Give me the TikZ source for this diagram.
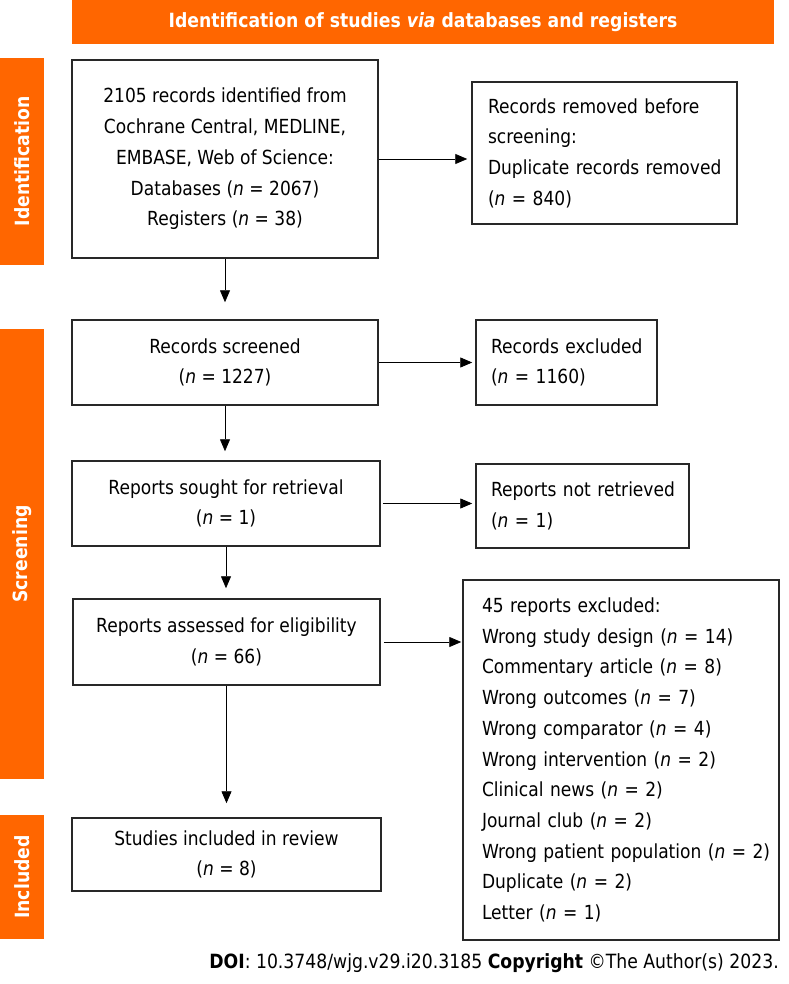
\documentclass[tikz,border=0pt]{standalone}
\usepackage{fontspec}
\setmainfont{DejaVu Sans}[FakeStretch=0.88]
\usetikzlibrary{arrows.meta}
\definecolor{prisma}{RGB}{255,102,0}
\definecolor{boxline}{RGB}{40,40,40}
\newcommand\nn{\textit{n}}
\begin{document}
\begin{tikzpicture}[x=1pt,y=-1pt,
  box/.style={draw=boxline,line width=1.5pt,inner sep=0pt,align=center,
    font=\fontsize{19.4}{30.7}\selectfont},
  lbox/.style={box,align=left,inner xsep=15pt},
  side/.style={fill=prisma,text=white,rotate=90,inner sep=0pt,minimum height=44pt,
    font=\fontsize{19.6}{22}\selectfont\bfseries},
  conn/.style={-{Triangle[length=12pt,width=10pt]},line width=0.8pt,black}]
\useasboundingbox (0,0) rectangle (788,984);
% banner and side bars
\node[fill=prisma,text=white,inner sep=0pt,minimum width=702pt,minimum height=44pt,
  font=\fontsize{19.6}{22}\selectfont\bfseries] (banner) at (423,22)
  {Identification of studies \textit{via} databases and registers};
\node[side,minimum width=207pt] (sid) at (22,161.5) {Identification};
\node[side,minimum width=450pt] (sscr) at (22,554) {Screening};
\node[side,minimum width=124pt] (sinc) at (22,877) {Included};
% boxes
\node[box,minimum width=306pt,minimum height=198pt] (b1) at (225,159)
  {2105 records identified from\\Cochrane Central, MEDLINE,\\EMBASE, Web of Science:\\Databases (\nn{} = 2067)\\Registers (\nn{} = 38)};
\node[lbox,minimum width=265pt,minimum height=142pt,text width=233pt,inner xsep=16pt] (b2) at (604.5,153)
  {\mbox{Records removed before}\\\mbox{screening:}\\\mbox{Duplicate records removed}\\\mbox{(\nn{} = 840)}};
\node[box,minimum width=306pt,minimum height=85pt] (b3) at (225,362.5)
  {Records screened\\(\nn{} = 1227)};
\node[lbox,minimum width=181pt,minimum height=85pt,text width=151pt] (b4) at (566.5,362.5)
  {\mbox{Records excluded}\\\mbox{(\nn{} = 1160)}};
\node[box,minimum width=308pt,minimum height=85pt] (b5) at (226,503.5)
  {Reports sought for retrieval\\(\nn{} = 1)};
\node[lbox,minimum width=213pt,minimum height=84pt,text width=183pt] (b6) at (582.5,506)
  {\mbox{Reports not retrieved}\\\mbox{(\nn{} = 1)}};
\node[box,minimum width=307pt,minimum height=86pt] (b7) at (226.5,642)
  {Reports assessed for eligibility\\(\nn{} = 66)};
\node[lbox,minimum width=316pt,minimum height=360pt,text width=278pt,inner xsep=19pt] (b8) at (621,760)
  {\mbox{45 reports excluded:}\\\mbox{Wrong study design (\nn{} = 14)}\\\mbox{Commentary article (\nn{} = 8)}\\\mbox{Wrong outcomes (\nn{} = 7)}\\\mbox{Wrong comparator (\nn{} = 4)}\\\mbox{Wrong intervention (\nn{} = 2)}\\\mbox{Clinical news (\nn{} = 2)}\\\mbox{Journal club (\nn{} = 2)}\\\mbox{Wrong patient population (\nn{} = 2)}\\\mbox{Duplicate (\nn{} = 2)}\\\mbox{Letter (\nn{} = 1)}};
\node[box,minimum width=309pt,minimum height=73pt] (b9) at (226.5,854.5)
  {Studies included in review\\(\nn{} = 8)};
% connectors
\draw[conn,shorten >=4pt] (b1.east) -- (b1.east -| b2.west);
\draw[conn,shorten >=17pt] (b1.south) -- (b1.south |- b3.north);
\draw[conn,shorten >=3pt] (b3.east) -- (b3.east -| b4.west);
\draw[conn,shorten >=9pt] (b3.south) -- (b3.south |- b5.north);
\draw[conn,shorten <=2pt,shorten >=3pt] (b5.east) -- (b5.east -| b6.west);
\draw[conn,shorten >=10pt] (b5.south) -- (b5.south |- b7.north);
\draw[conn,shorten <=3pt,shorten >=1pt] (b7.east) -- (b7.east -| b8.west);
\draw[conn,shorten >=14pt] (b7.south) -- (b7.south |- b9.north);
% footer
\node[anchor=east,inner sep=0pt,font=\fontsize{19.6}{22}\selectfont] (doi) at (779,963)
  {\textbf{DOI}: 10.3748/wjg.v29.i20.3185 \textbf{Copyright} ©The Author(s) 2023.};
\end{tikzpicture}
\end{document}
